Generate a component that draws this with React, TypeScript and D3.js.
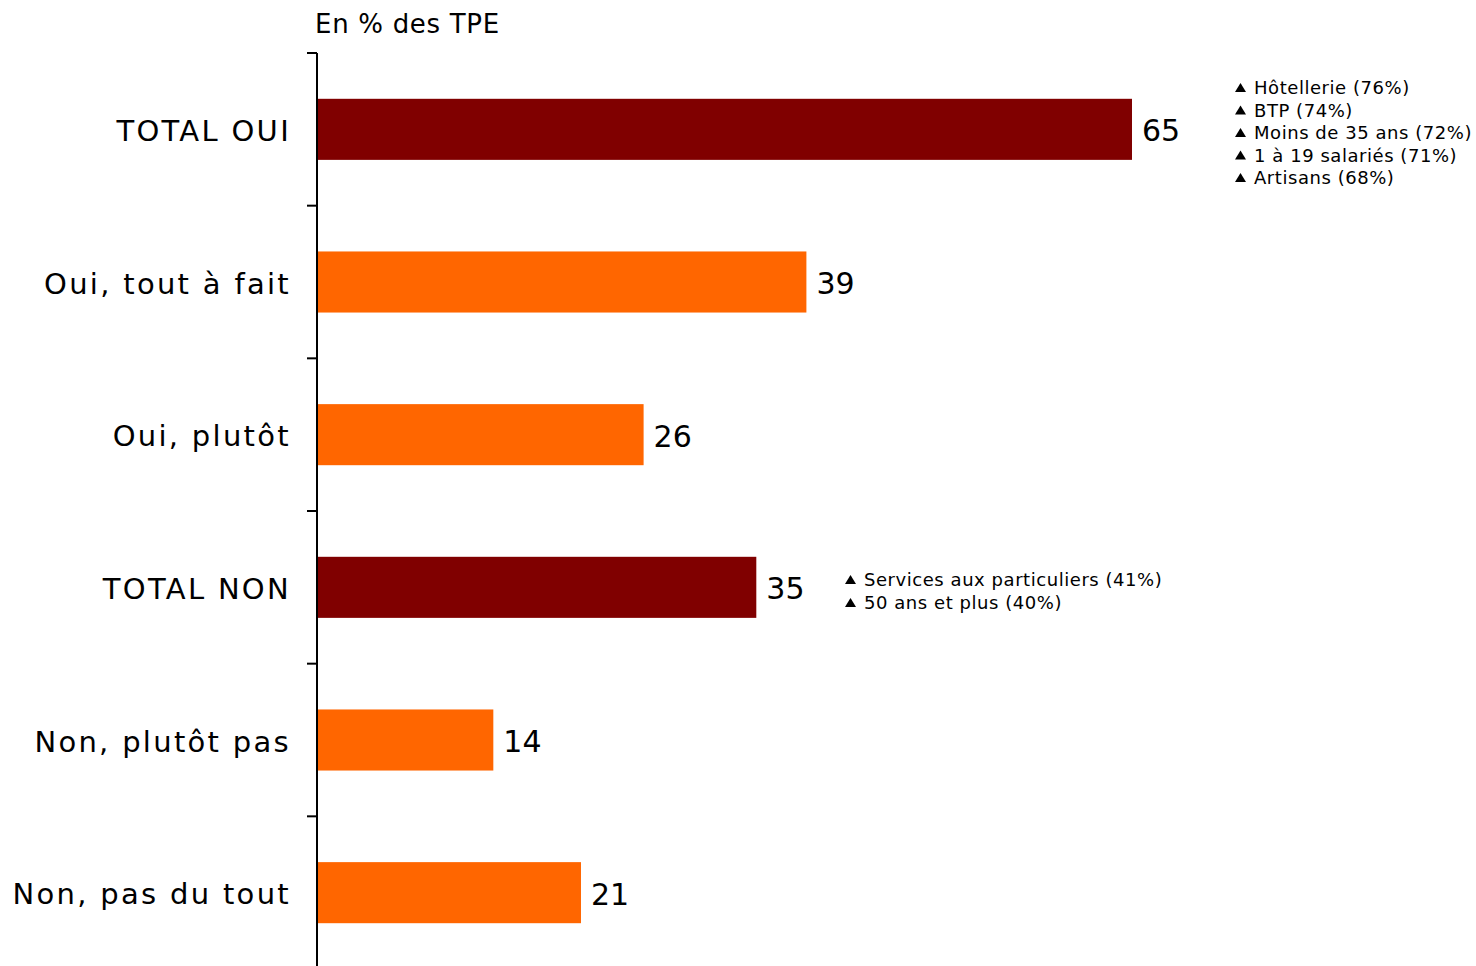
import React from "react";
import * as d3 from "d3";

const categories = ["TOTAL OUI", "Oui, tout à fait", "Oui, plutôt", "TOTAL NON", "Non, plutôt pas", "Non, pas du tout"];
const values = [65, 39, 26, 35, 14, 21];
const isTotal = [true, false, false, true, false, false];
const notesOui = ["Hôtellerie (76%)", "BTP (74%)", "Moins de 35 ans (72%)", "1 à 19 salariés (71%)", "Artisans (68%)"];
const notesNon = ["Services aux particuliers (41%)", "50 ans et plus (40%)"];
const title = "En % des TPE";

const W = 1476;
const H = 966;
const FONT = "Verdana, 'DejaVu Sans', sans-serif";

function Notes({ items, x0, y0, dy }: { items: string[]; x0: number; y0: number; dy: number }) {
  return (
    <g>
      {items.map((n, i) => {
        const cy = y0 + i * dy;
        return (
          <g key={n}>
            <path d={`M${x0},${cy + 4}L${x0 + 11},${cy + 4}L${x0 + 5.5},${cy - 5}Z`} fill="#000" />
            <text x={x0 + 19} y={cy} dy="0.36em" fontSize={18} letterSpacing={0.55} fill="#000">{n}</text>
          </g>
        );
      })}
    </g>
  );
}

export default function App() {
  const x = d3.scaleLinear().domain([0, 65]).range([318, 1132]);
  const y = d3.scaleBand<string>().domain(categories).range([53, 969]).paddingInner(0.6).paddingOuter(0.3);
  const ticks = categories.map((_, i) => 53 + i * ((969 - 53) / categories.length));
  ticks.push(969);
  return (
    <svg width={W} height={H} style={{ position: "absolute", left: 0, top: 0, background: "#fff" }} fontFamily={FONT}>
      <text x={315} y={33} fontSize={26} letterSpacing={0.7} fill="#000">{title}</text>
      {categories.map((c, i) => (
        <g key={c}>
          <rect x={x(0)} y={y(c)!} width={x(values[i]) - x(0)} height={y.bandwidth()} fill={isTotal[i] ? "#800000" : "#FF6600"} />
          <text x={x(values[i]) + 10} y={y(c)! + y.bandwidth() / 2} dy="0.4em" fontSize={30} fill="#000">{values[i]}</text>
          <text x={291} y={y(c)! + y.bandwidth() / 2} dy="0.4em" fontSize={29} letterSpacing={2.3} textAnchor="end" fill="#000">{c}</text>
        </g>
      ))}
      <line x1={317} x2={317} y1={53} y2={969} stroke="#000" strokeWidth={2} />
      {ticks.map((t, i) => (
        <line key={i} x1={307} x2={317} y1={t} y2={t} stroke="#000" strokeWidth={2} />
      ))}
      <Notes items={notesOui} x0={1235} y0={88} dy={22.5} />
      <Notes items={notesNon} x0={845} y0={580} dy={23} />
    </svg>
  );
}
